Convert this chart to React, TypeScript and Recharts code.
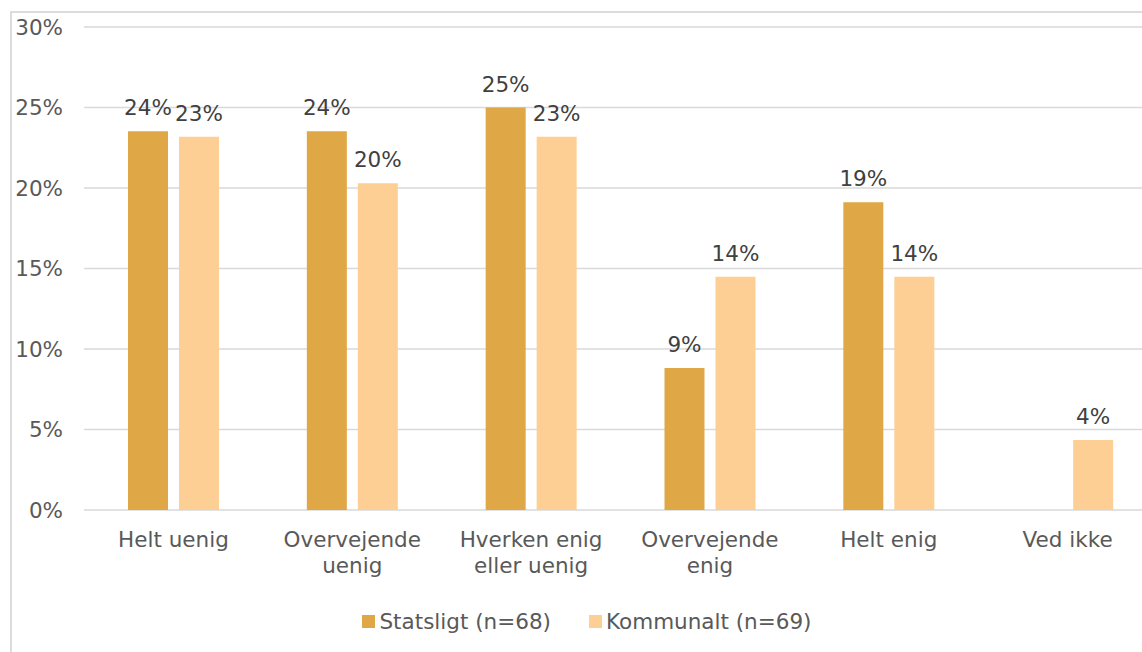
import { BarChart, Bar, XAxis, YAxis, CartesianGrid, Legend, LabelList } from "recharts";

const categories = [
  "Helt uenig",
  "Overvejende\nuenig",
  "Hverken enig\neller uenig",
  "Overvejende\nenig",
  "Helt enig",
  "Ved ikke",
];
const statsligt = [23.53, 23.53, 25.0, 8.82, 19.12, null];
const kommunalt = [23.19, 20.29, 23.19, 14.49, 14.49, 4.35];
const seriesNames = ["Statsligt (n=68)", "Kommunalt (n=69)"];
const seriesColors = ["#DFA746", "#FDCF94"];
const yTicks = [0, 5, 10, 15, 20, 25, 30];

const data = categories.map((c, i) => ({
  name: c,
  statsligt: statsligt[i],
  kommunalt: kommunalt[i],
}));

const FONT = "'DejaVu Sans', Verdana, sans-serif";
const AXIS = "#595959";
const FS = 21.5;

function CategoryTick({ x, y, payload }: any) {
  const lines = String(payload.value).split("\n");
  return (
    <text x={x} y={y} textAnchor="middle" fill={AXIS} fontSize={FS} fontFamily={FONT}>
      {lines.map((l, i) => (
        <tspan key={i} x={x} dy={i === 0 ? 0 : 26}>{l}</tspan>
      ))}
    </text>
  );
}

function LegendBox() {
  return (
    <div style={{ height: 30, display: "flex", justifyContent: "center", alignItems: "center",
                  fontFamily: FONT, fontSize: FS, color: AXIS, gap: 38 }}>
      {seriesNames.map((n, i) => (
        <div key={n} style={{ display: "flex", alignItems: "center" }}>
          <span style={{ width: 13, height: 13, background: seriesColors[i], marginRight: 4, display: "inline-block" }} />
          <span>{n}</span>
        </div>
      ))}
    </div>
  );
}

const pct = (v: any) => (v == null ? "" : `${Math.round(Number(v))}%`);

export default function App() {
  return (
    <div style={{ position: "fixed", left: 0, top: 0, width: 1142, height: 652, overflow: "hidden", background: "#fff" }}>
      <div style={{ position: "absolute", left: 10, top: 11, width: 1200, height: 700,
                    borderLeft: "2px solid #dcdcdc", borderTop: "2px solid #dcdcdc" }} />
      <div style={{ position: "absolute", left: 0, top: 0 }}>
        <BarChart width={1160} height={652} data={data}
                  margin={{ top: 27, right: 3, bottom: 0, left: 0 }}
                  barSize={40} barGap={11}>
          <CartesianGrid vertical={false} stroke="#d9d9d9" strokeWidth={1.5} />
          <XAxis dataKey="name" axisLine={false} tickLine={false} tickSize={0} tickMargin={37}
                 height={112} interval={0} tick={<CategoryTick />} />
          <YAxis domain={[0, 30]} ticks={yTicks} axisLine={false} tickLine={false} tickSize={0}
                 tickMargin={21} width={84} tickFormatter={(v) => `${v}%`}
                 tick={{ fill: AXIS, fontSize: FS, fontFamily: FONT }} />
          <Legend verticalAlign="bottom" content={<LegendBox />}
                  wrapperStyle={{ left: 0, width: 1174, top: 606 }} />
          <Bar dataKey="statsligt" name={seriesNames[0]} fill={seriesColors[0]} isAnimationActive={false}>
            <LabelList dataKey="statsligt" position="top" offset={16} formatter={pct}
                       fill="#404040" fontSize={FS} fontFamily={FONT} />
          </Bar>
          <Bar dataKey="kommunalt" name={seriesNames[1]} fill={seriesColors[1]} isAnimationActive={false}>
            <LabelList dataKey="kommunalt" position="top" offset={16} formatter={pct}
                       fill="#404040" fontSize={FS} fontFamily={FONT} />
          </Bar>
        </BarChart>
      </div>
    </div>
  );
}
